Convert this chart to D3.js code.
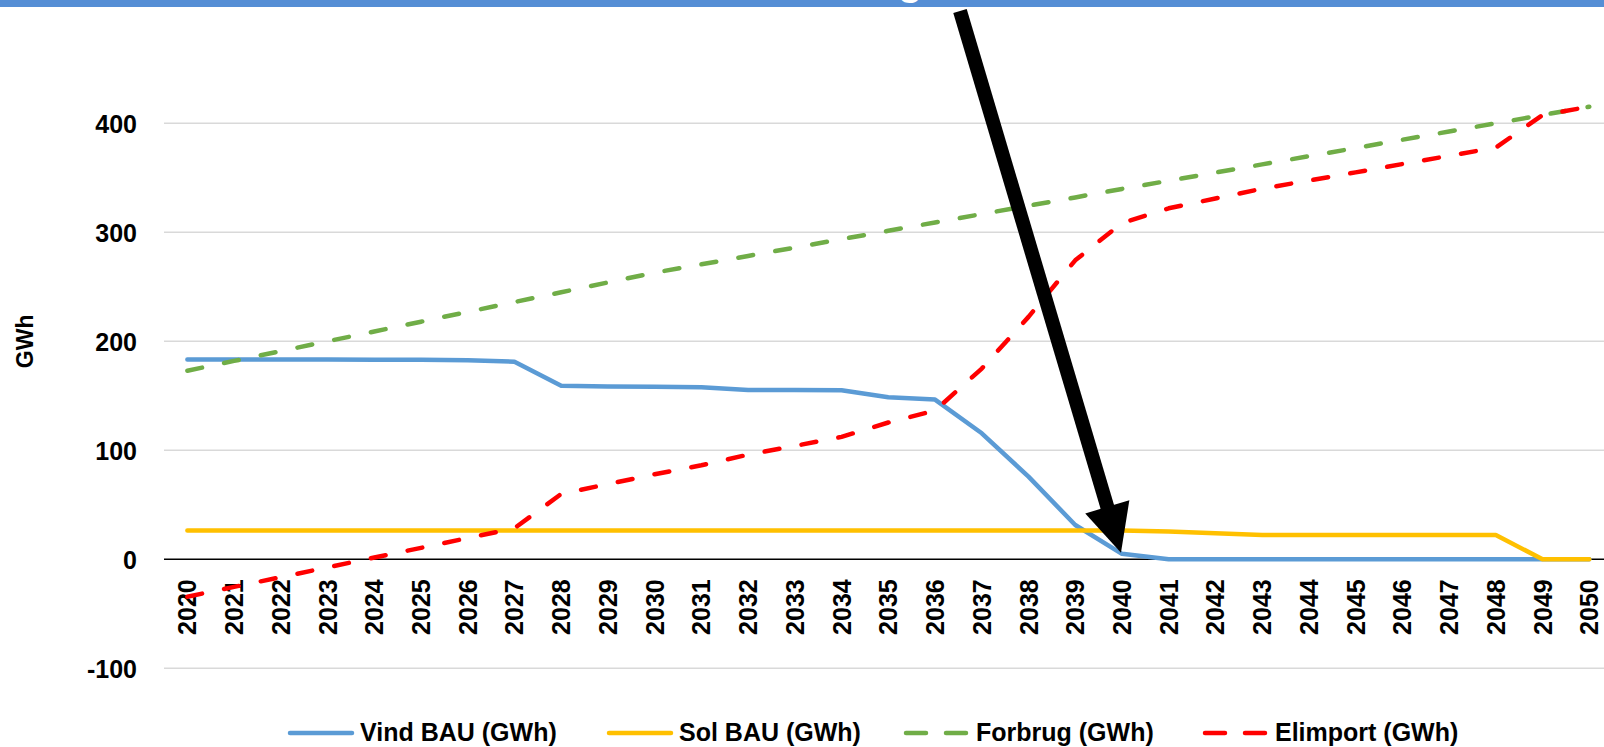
<!DOCTYPE html>
<html>
<head>
<meta charset="utf-8">
<script src="https://cdn.jsdelivr.net/npm/d3@7"></script>
<style>
  html, body { margin: 0; padding: 0; background: #fff; }
  svg { display: block; }
  text { font-family: "Liberation Sans", Arial, sans-serif; font-weight: bold; fill: #000; }
</style>
</head>
<body>
<svg id="chart" width="1604" height="747"></svg>
<script>
// ---- data ----
const years = [2020,2021,2022,2023,2024,2025,2026,2027,2028,2029,2030,2031,2032,2033,2034,2035,2036,2037,2038,2039,2040,2041,2042,2043,2044,2045,2046,2047,2048,2049,2050];
const vindBAU = [183.2,183.2,183.2,183.2,183.1,183,182.7,181.3,159.3,158.5,158.3,157.8,155.3,155.3,155.1,148.6,146.5,115.6,75.8,31.5,5,0,0,0,0,0,0,0,0,0,0];
const solBAU = [26.5,26.5,26.5,26.5,26.5,26.5,26.5,26.5,26.5,26.5,26.5,26.5,26.5,26.5,26.5,26.5,26.5,26.5,26.5,26.5,26.4,25.5,23.8,22.3,22.3,22.3,22.3,22.3,22.3,0,0];
const forbrug = [173,182,191,200,209,218,227,236,245,254,263,270.6,278.3,286,293.7,301.4,309,316.7,324.4,332,339.8,347.3,354.8,362.3,369.8,377.3,384.9,392.5,400,407.6,415.2];
const elimport = [-34.3,-25.3,-16.4,-7.4,1.6,10.5,19.5,28.5,60,69,78,86.3,96,104,112.3,125.5,136.5,175,222.4,274.3,308.5,322,331,340,347.5,355,362.6,370.2,377.7,407.6,415.2];
const yTicks = [-100,0,100,200,300,400];
const yLabel = "GWh";
const seriesNames = ["Vind BAU (GWh)","Sol BAU (GWh)","Forbrug (GWh)","Elimport (GWh)"];
const seriesColors = ["#5b9bd5","#ffc000","#70ad47","#ff0000"];
const arrowYear = 2040;

// ---- layout ----
const svg = d3.select("#chart");
const step = 46.73;
const plotLeft = 164;
const x = d3.scaleBand().domain(years).range([plotLeft, plotLeft + years.length * step]).padding(0);
const y = d3.scaleLinear().domain([-100, 400]).range([668.3, 123.3]);
const cx = d => x(d) + x.bandwidth() / 2;

// top band
svg.append("rect").attr("x", 0).attr("y", 0).attr("width", 1604).attr("height", 7).attr("fill", "#558ed5");
svg.append("text").attr("x", 898).attr("y", -5.5).attr("font-size", 40).style("fill", "#fff").text("g");

// gridlines
svg.append("g").selectAll("line").data(yTicks.filter(t => t !== 0)).join("line")
  .attr("x1", plotLeft).attr("x2", 1604)
  .attr("y1", d => y(d)).attr("y2", d => y(d))
  .attr("stroke", "#d9d9d9").attr("stroke-width", 1.5);

// y axis labels
const yAxis = d3.axisLeft(y).tickValues(yTicks).tickSize(0).tickPadding(0).tickFormat(d => String(d));
const gy = svg.append("g").attr("transform", "translate(137,0)").call(yAxis);
gy.select(".domain").remove();
gy.selectAll("text").attr("font-size", 25).style("font-family", "'Liberation Sans', Arial, sans-serif").style("font-weight", "bold").attr("dy", "0.35em");

// y title
svg.append("text").attr("transform", `translate(33,${y(200)}) rotate(-90)`)
  .attr("text-anchor", "middle").attr("font-size", 23).text(yLabel);

// zero axis + category labels
const xAxis = d3.axisBottom(x).tickSize(0).tickPadding(0).tickFormat(d => String(d));
const gx = svg.append("g").attr("transform", `translate(0,${y(0)})`).call(xAxis);
gx.select(".domain").attr("stroke", "#000").attr("stroke-width", 1.5).attr("d", `M${plotLeft},0H1604`);
gx.selectAll("text")
  .attr("font-size", 25).style("font-family", "'Liberation Sans', Arial, sans-serif").style("font-weight", "bold")
  .attr("transform", "rotate(-90)").attr("text-anchor", "end")
  .attr("x", -20).attr("y", 0).attr("dy", "0.36em");

// lines
const allSeries = [vindBAU, solBAU, forbrug, elimport];
const dashed = [false, false, true, true];
const line = d3.line().x((d, i) => cx(years[i])).y(d => y(d));
allSeries.forEach((vals, k) => {
  const p = svg.append("path").datum(vals)
    .attr("d", line).attr("fill", "none")
    .attr("stroke", seriesColors[k]).attr("stroke-width", 4.5)
    .attr("stroke-linejoin", "round").attr("stroke-linecap", "round");
  if (dashed[k]) p.attr("stroke-dasharray", "15 22.5");
});

// legend
const legX = [288, 607, 904, 1203];
const legY = 733;
seriesNames.forEach((name, k) => {
  const g = svg.append("g");
  const l = g.append("line").attr("x1", legX[k] + 2).attr("x2", legX[k] + 64).attr("y1", legY).attr("y2", legY)
    .attr("stroke", seriesColors[k]).attr("stroke-width", 4.5).attr("stroke-linecap", "round");
  if (dashed[k]) l.attr("stroke-dasharray", "20 20");
  g.append("text").attr("x", legX[k] + 72).attr("y", 741).attr("font-size", 25).text(name);
});

// arrow annotation
const ai = years.indexOf(arrowYear);
const tip = [cx(arrowYear) - 1, y(vindBAU[ai]) - 1];
const start = [960, 11];
const dx = tip[0] - start[0], dy = tip[1] - start[1];
const len = Math.hypot(dx, dy);
const u = [dx / len, dy / len];
const pr = [u[1], -u[0]];
const headLen = 48, headHalf = 23;
const base = [tip[0] - headLen * u[0], tip[1] - headLen * u[1]];
svg.append("line").attr("x1", start[0]).attr("y1", start[1]).attr("x2", base[0] + u[0]*2).attr("y2", base[1] + u[1]*2)
  .attr("stroke", "#000").attr("stroke-width", 14);
svg.append("path")
  .attr("d", `M${tip[0]},${tip[1]}L${base[0] + headHalf*pr[0]},${base[1] + headHalf*pr[1]}L${base[0] - headHalf*pr[0]},${base[1] - headHalf*pr[1]}Z`)
  .attr("fill", "#000");
</script>
</body>
</html>
